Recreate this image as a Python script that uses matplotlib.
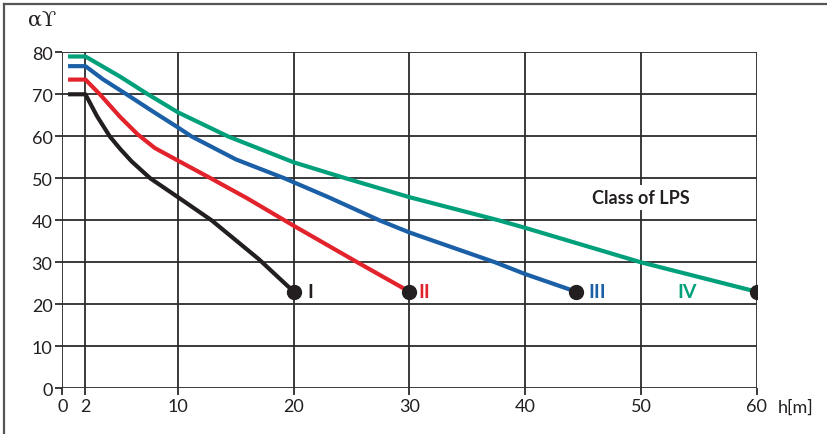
import numpy as np
import matplotlib
matplotlib.use("Agg")
import matplotlib.pyplot as plt
from matplotlib.lines import Line2D

plt.rcParams['font.family'] = ['Lato', 'DejaVu Sans']

# protection angle vs height
h_I = [0.5, 2, 3, 4.1, 5, 6, 7.6, 10, 12.9, 17, 20]
a_I = [70, 70, 64.8, 60, 57, 54, 50, 45.5, 40, 30.7, 23]

h_II = [0.5, 2, 3.25, 5, 6.5, 8, 10, 12.9, 16, 20, 25.5, 30]
a_II = [73.5, 73.5, 70, 64.6, 60.5, 57.2, 54.2, 49.9, 45.2, 38.7, 30, 23]

h_III = [0.5, 2, 3.5, 5.55, 8, 10, 11.15, 15, 19.2, 23, 27.4, 30, 37.4, 40, 44.4]
a_III = [76.7, 76.7, 73.6, 70, 65.6, 62.1, 60, 54.5, 50, 45.5, 40, 37.1, 30, 27.2, 23]

h_IV = [0.5, 2, 3.5, 5, 7.4, 10, 14.3, 20, 24.5, 30, 37.7, 40, 50, 60]
a_IV = [79, 79, 76.6, 74.2, 70, 65.7, 60, 53.8, 50, 45.5, 40, 38.2, 30, 23]

classes = ['I', 'II', 'III', 'IV']
colors = ['#231f20', '#e3232c', '#1b5fa6', '#00a07a']
label_x = [21.4, 31.3, 46.2, 54.0]

xticks = [0, 2, 10, 20, 30, 40, 50, 60]
yticks = [0, 10, 20, 30, 40, 50, 60, 70, 80]

fig = plt.figure(figsize=(8.27, 4.35), dpi=100)
ax = fig.add_axes([0.0753, 0.105, 0.8397, 0.7725])

gridc = '#2b2b2b'
for x in xticks:
    ax.axvline(x, color=gridc, lw=1.3, zorder=1)
for y in yticks:
    ax.axhline(y, color=gridc, lw=1.3, zorder=1)

curves = [(h_I, a_I), (h_II, a_II), (h_III, a_III), (h_IV, a_IV)]
for (hh, aa), c, name, lx in zip(curves, colors, classes, label_x):
    ax.plot(hh, aa, color=c, lw=3, solid_capstyle='butt', solid_joinstyle='round', zorder=3)
    ax.plot(hh[-1], aa[-1], 'o', color='#231f20', ms=10, zorder=4)
    ax.text(lx, aa[-1], name, color=c, fontsize=14, fontweight='bold',
            ha='center', va='center', zorder=5)

ax.text(50, 45.4, 'Class of LPS', fontsize=13, fontweight='bold', color='#231f20',
        ha='center', va='center', zorder=5,
        bbox=dict(facecolor='white', edgecolor='none', pad=3))

ax.set_xlim(0, 60)
ax.set_ylim(0, 80)
ax.set_xticks(xticks)
ax.set_yticks(yticks)
for s in ax.spines.values():
    s.set_visible(False)
ax.tick_params(direction='out', length=5, width=1.3, color=gridc,
               labelsize=13, labelcolor='#231f20', pad=2)

fig.text(0.051, 0.953, 'αϒ', fontsize=15, family=['DejaVu Serif'],
         ha='center', va='center', color='#231f20')
fig.text(0.962, 0.062, 'h[m]', fontsize=13, ha='center', va='center', color='#231f20')

# frame lines at top and left of the picture
fig.add_artist(Line2D([0.005, 0.005], [0, 0.989], color='#555555', lw=1.6))
fig.add_artist(Line2D([0.005, 1], [0.989, 0.989], color='#555555', lw=1.6))

fig.savefig('out.png', dpi=100)
